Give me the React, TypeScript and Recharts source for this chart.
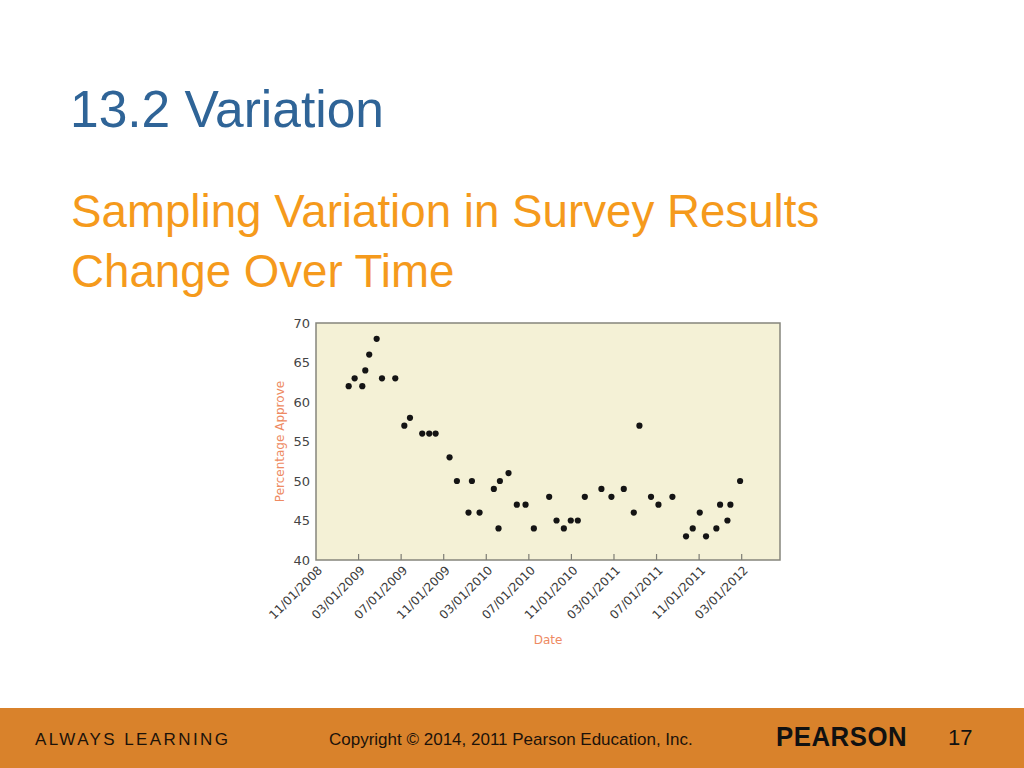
import React from 'react';
import { ScatterChart, Scatter, XAxis, YAxis, ReferenceArea } from 'recharts';

// months after 11/01/2008 (x) and percentage approving (y)
const monthOffset = [
  3.07, 3.63, 4.35, 4.63, 5.0, 5.7, 6.2, 7.45, 8.3, 8.83, 9.98, 10.64, 11.24, 12.55, 13.24, 14.33,
  14.65, 15.37, 16.71, 17.15, 17.28, 18.09, 18.87, 19.69, 20.47, 21.91, 22.6, 23.29, 23.94, 24.6,
  25.26, 26.82, 27.76, 28.92, 29.86, 30.39, 31.48, 32.18, 33.49, 34.77, 35.4, 36.06, 36.65, 37.62,
  37.97, 38.66, 38.94, 39.85,
];
const approve = [
  62, 63, 62, 64, 66, 68, 63, 63, 57, 58, 56, 56, 56, 53, 50, 46,
  50, 46, 49, 44, 50, 51, 47, 47, 44, 48, 45, 44, 45, 45,
  48, 49, 48, 49, 46, 57, 48, 47, 48, 43, 44, 46, 43, 44,
  47, 45, 47, 50,
];
const dateTicks = [0, 4, 8, 12, 16, 20, 24, 28, 32, 36, 40];
const dateLabels = [
  '11/01/2008', '03/01/2009', '07/01/2009', '11/01/2009', '03/01/2010', '07/01/2010',
  '11/01/2010', '03/01/2011', '07/01/2011', '11/01/2011', '03/01/2012',
];
const yTicks = [40, 45, 50, 55, 60, 65, 70];

const data = monthOffset.map((m, i) => ({ month: m, approve: approve[i] }));

const axisFont = '"DejaVu Sans", sans-serif';
const labelColor = '#EE8A62';

const DateTick = (props: any) => {
  const { x, y, payload } = props;
  const label = dateLabels[dateTicks.indexOf(payload.value)];
  const ax = x + 7;
  const ay = y + 11;
  return (
    <g>
      {payload.value > 0 && <line x1={x} y1={y} x2={x} y2={y - 6} stroke="#7d7d75" strokeWidth={1.2} />}
      <text
        x={ax}
        y={ay}
        textAnchor="end"
        transform={`rotate(-45, ${ax}, ${ay})`}
        fontSize={12}
        fill="#3a3a3a"
        fontFamily={axisFont}
      >
        {label}
      </text>
    </g>
  );
};

const XLabel = (props: any) => {
  const vb = props.viewBox;
  return (
    <text x={vb.x + vb.width / 2} y={vb.y + 80} textAnchor="middle" dominantBaseline="central"
      fontSize={12} fill={labelColor} fontFamily={axisFont}>
      Date
    </text>
  );
};

const YLabel = (props: any) => {
  const vb = props.viewBox;
  const cx = vb.x + 24;
  const cy = vb.y + vb.height / 2;
  return (
    <text x={cx} y={cy} textAnchor="middle" dominantBaseline="central" transform={`rotate(-90, ${cx}, ${cy})`}
      fontSize={12} fill={labelColor} fontFamily={axisFont}>
      Percentage Approve
    </text>
  );
};

const Dot = (p: any) => <circle cx={p.cx} cy={p.cy} r={3.1} fill="#141414" />;

export default function App() {
  const sans = '"Liberation Sans", Arial, sans-serif';
  return (
    <div style={{ position: 'absolute', left: 0, top: 0, width: 1024, height: 768, background: '#fff', overflow: 'hidden', fontFamily: sans }}>
      <div style={{ position: 'absolute', left: 70, top: 84.4, fontSize: 51.5, lineHeight: '51.5px', color: '#2F6497', whiteSpace: 'nowrap' }}>
        13.2 Variation
      </div>
      <div style={{ position: 'absolute', left: 71, top: 189.3, fontSize: 45.7, lineHeight: '45.7px', color: '#F59A1C', whiteSpace: 'nowrap' }}>
        Sampling Variation in Survey Results
      </div>
      <div style={{ position: 'absolute', left: 71, top: 249.3, fontSize: 45.7, lineHeight: '45.7px', color: '#F59A1C', whiteSpace: 'nowrap' }}>
        Change Over Time
      </div>

      <div style={{ position: 'absolute', left: 200, top: 310 }}>
        <ScatterChart width={620} height={350} margin={{ top: 13, right: 40, bottom: 10, left: 56 }}>
          <ReferenceArea x1={0} x2={43.6} y1={40} y2={70} fill="#F4F1D6" fillOpacity={1} stroke="#85857c" strokeWidth={1.5} />
          <XAxis
            type="number"
            dataKey="month"
            domain={[0, 43.6]}
            ticks={dateTicks}
            interval={0}
            tick={<DateTick />}
            tickLine={false}
            axisLine={false}
            tickSize={0}
            tickMargin={0}
            height={90}
            label={<XLabel />}
          />
          <YAxis
            type="number"
            dataKey="approve"
            domain={[40, 70]}
            ticks={yTicks}
            interval={0}
            width={60}
            tickLine={false}
            axisLine={false}
            tickSize={0}
            tickMargin={6}
            tick={{ fontSize: 13, fill: '#444', fontFamily: axisFont }}
            label={<YLabel />}
          />
          <Scatter data={data} shape={<Dot />} isAnimationActive={false} />
        </ScatterChart>
      </div>

      <div style={{ position: 'absolute', left: 0, top: 708, width: 1024, height: 60, background: '#D9822B' }} />
      <div style={{ position: 'absolute', left: 35, top: 731, fontSize: 17, lineHeight: '17px', letterSpacing: 2.4, color: '#1c120a', whiteSpace: 'nowrap' }}>
        ALWAYS LEARNING
      </div>
      <div style={{ position: 'absolute', left: 329, top: 730.5, fontSize: 17, lineHeight: '17px', color: '#1c120a', whiteSpace: 'nowrap' }}>
        Copyright © 2014, 2011 Pearson Education, Inc.
      </div>
      <div style={{ position: 'absolute', left: 776, top: 723, fontSize: 28, lineHeight: '28px', fontWeight: 700, letterSpacing: 0.6, color: '#111', whiteSpace: 'nowrap', transform: 'scaleX(0.92)', transformOrigin: 'left center' }}>
        PEARSON
      </div>
      <div style={{ position: 'absolute', left: 948, top: 727, fontSize: 22, lineHeight: '22px', color: '#111', whiteSpace: 'nowrap' }}>
        17
      </div>
    </div>
  );
}
